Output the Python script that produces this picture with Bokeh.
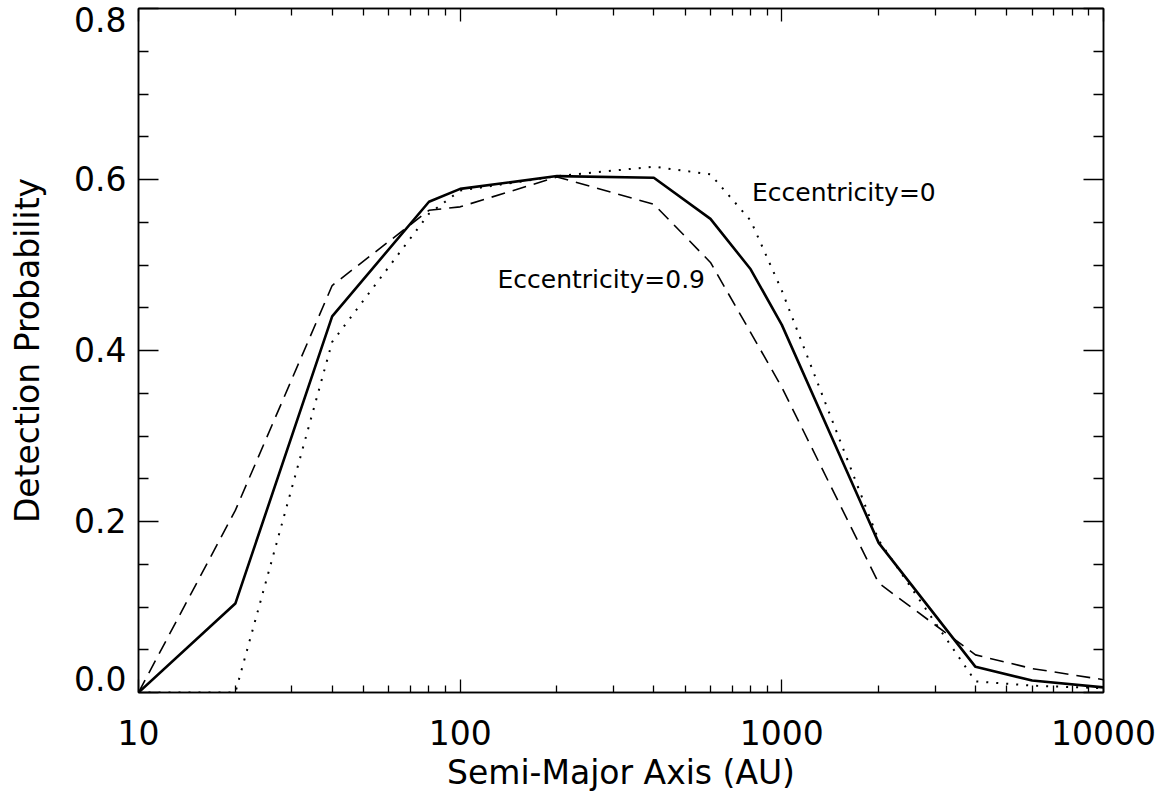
from bokeh.plotting import figure
from bokeh.models import (Range1d, FixedTicker, LinearAxis, LogAxis, Label,
                          CustomJSTickFormatter, PrintfTickFormatter)
from bokeh.embed import file_html
from bokeh.resources import INLINE

# ---- data ----
semi_major_axis = [10, 20, 40, 80, 100, 200, 400, 600, 800, 1000, 2000, 4000, 6000, 10000]
prob_solid = [0.0, 0.104, 0.440, 0.574, 0.589, 0.604, 0.602, 0.554, 0.495, 0.430, 0.175, 0.030, 0.014, 0.006]
prob_ecc_09 = [0.0, 0.213, 0.476, 0.564, 0.568, 0.603, 0.571, 0.503, 0.421, 0.357, 0.128, 0.044, 0.028, 0.015]
prob_ecc_0 = [0.0, 0.0, 0.410, 0.560, 0.587, 0.604, 0.615, 0.606, 0.552, 0.470, 0.178, 0.013, 0.008, 0.005]

x_major_ticks = [10, 100, 1000, 10000]
x_minor_ticks = [m * d for d in (10, 100, 1000) for m in range(2, 10)]
y_major_ticks = [0.0, 0.2, 0.4, 0.6, 0.8]
y_minor_ticks = [0.05, 0.1, 0.15, 0.25, 0.3, 0.35, 0.45, 0.5, 0.55, 0.65, 0.7, 0.75]
x_tick_labels = {10: "10", 100: "100", 1000: "1000", 10000: "10000"}
# bottom edge label nudged up inside the frame's vertical extent, as in the original
y_tick_labels = {0.0: "0.0\n ", 0.2: "0.2", 0.4: "0.4", 0.6: "0.6", 0.8: "0.8"}

FONT = "DejaVu Sans"
TICK_FS = "33px"

p = figure(x_axis_type="log", x_range=Range1d(10, 10000), y_range=Range1d(0, 0.8),
           width=1169, height=800,
           frame_width=965, frame_height=684,
           min_border_left=138, min_border_right=66, min_border_top=8, min_border_bottom=108,
           output_backend="svg", toolbar_location=None,
           background_fill_color="white", border_fill_color="white")
p.grid.visible = False
p.outline_line_color = "black"
p.outline_line_width = 1.5

# lines
p.line(semi_major_axis, prob_ecc_0, line_color="black", line_width=2, line_dash="2 8")
p.line(semi_major_axis, prob_ecc_09, line_color="black", line_width=1.6, line_dash="14 8")
p.line(semi_major_axis, prob_solid, line_color="black", line_width=2.6)

xt = FixedTicker(ticks=x_major_ticks, minor_ticks=x_minor_ticks)
yt = FixedTicker(ticks=y_major_ticks, minor_ticks=y_minor_ticks)
blank = CustomJSTickFormatter(code="return ''")


def style(ax, major, minor):
    ax.axis_line_color = "black"
    ax.axis_line_width = 1.5
    ax.major_tick_line_color = "black"
    ax.minor_tick_line_color = "black"
    ax.major_tick_line_width = 1.3
    ax.minor_tick_line_width = 1.3
    ax.major_tick_in = major
    ax.major_tick_out = 0
    ax.minor_tick_in = minor
    ax.minor_tick_out = 0
    ax.major_label_text_font = FONT
    ax.major_label_text_font_size = TICK_FS
    ax.major_label_text_color = "black"
    ax.axis_label_text_font = FONT
    ax.axis_label_text_font_size = "33px"
    ax.axis_label_text_font_style = "normal"
    ax.axis_label_text_color = "black"


xa = p.xaxis[0]
xa.ticker = xt
xa.major_label_overrides = x_tick_labels
xa.axis_label = "Semi-Major Axis (AU)"
style(xa, 13, 7)
xa.major_label_standoff = 27
xa.axis_label_standoff = 5

ya = p.yaxis[0]
ya.ticker = yt
ya.formatter = PrintfTickFormatter(format="%.1f")
ya.major_label_overrides = y_tick_labels
ya.axis_label = "Detection Probability"
style(ya, 20, 10)
ya.major_label_text_line_height = 0.65
ya.major_label_standoff = 12
ya.axis_label_standoff = 24

top = LogAxis(ticker=xt, formatter=blank)
style(top, 13, 7)
top.major_label_standoff = 0
p.add_layout(top, "above")

right = LinearAxis(ticker=yt, formatter=blank)
style(right, 20, 10)
right.major_label_standoff = 0
p.add_layout(right, "right")

p.add_layout(Label(x=808, y=0.585, text="Eccentricity=0", text_font=FONT,
                   text_font_size="25px", text_baseline="middle", text_color="black"))
p.add_layout(Label(x=130.6, y=0.483, text="Eccentricity=0.9", text_font=FONT,
                   text_font_size="25px", text_baseline="middle", text_color="black"))

open("out.html", "w").write(file_html(p, INLINE))
